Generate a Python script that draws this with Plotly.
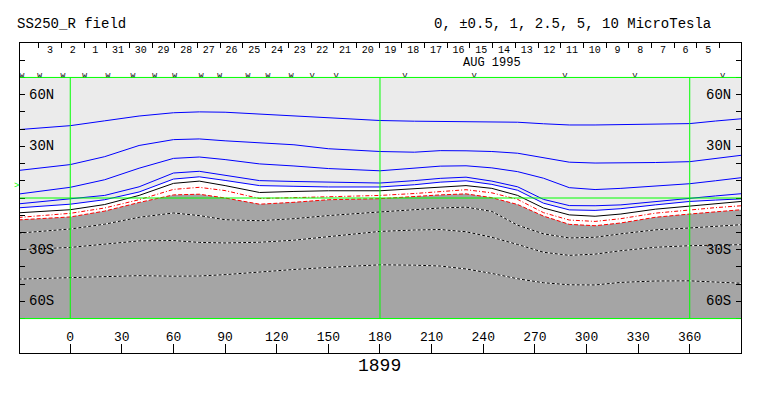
import plotly.graph_objects as go

# ---------------- data ----------------
lon = [-30, 0, 20, 40, 60, 75, 90, 110, 130, 150, 180, 200, 215, 230, 245, 260,
       275, 290, 305, 320, 340, 360, 375, 390]

c_p10 = [39.7, 42.0, 44.8, 47.6, 49.5, 50.0, 49.8, 48.8, 47.7, 46.4, 45.0, 44.6,
         44.5, 44.4, 44.3, 44.0, 43.1, 42.4, 42.4, 42.6, 42.8, 43.2, 44.7, 46.0]
c_p5 = [16.0, 19.4, 24.0, 30.5, 33.9, 34.3, 33.2, 32.0, 30.9, 28.6, 27.0, 26.6,
        27.5, 27.4, 27.0, 26.0, 23.5, 20.8, 20.3, 20.4, 20.6, 21.1, 23.1, 24.8]
c_p25 = [2.3, 6.2, 10.6, 17.3, 23.0, 23.8, 22.3, 19.8, 18.6, 17.1, 15.8, 17.1,
         18.5, 18.7, 17.5, 15.3, 11.5, 6.0, 4.9, 5.6, 7.0, 8.3, 10.0, 11.8]
c_p1 = [-3.4, -0.7, 1.5, 6.5, 14.5, 15.5, 13.2, 10.1, 9.6, 9.1, 8.7, 10.1,
        11.4, 12.1, 9.8, 6.5, -0.8, -4.4, -4.5, -4.0, -2.0, -0.2, 1.2, 2.5]
c_p05 = [-5.7, -3.6, -1.0, 3.5, 11.0, 12.3, 10.2, 7.2, 6.8, 6.4, 6.4, 7.7,
         9.2, 10.0, 7.9, 4.5, -3.0, -6.9, -7.2, -6.2, -4.0, -2.0, -1.2, -0.5]
c_0 = [-8.6, -6.8, -3.8, 1.5, 8.5, 9.8, 7.2, 3.2, 3.8, 4.2, 4.2, 5.5,
       6.6, 7.2, 5.6, 1.5, -5.8, -9.8, -10.6, -9.3, -6.5, -4.7, -3.3, -2.0]
c_m05 = [-11.3, -8.9, -5.8, -1.0, 5.0, 6.2, 4.3, -0.3, 0.2, 0.8, 1.5, 2.6,
         3.8, 4.8, 3.0, -0.8, -8.5, -12.8, -13.6, -12.0, -8.8, -6.8, -5.6, -4.5]
c_m1 = [-12.7, -11.0, -7.6, -2.6, 1.8, 2.2, 0.0, -3.6, -2.5, -1.0, -0.4, 0.9,
        1.8, 2.4, 0.2, -3.8, -10.5, -15.3, -16.1, -14.5, -11.2, -9.3, -8.0, -6.8]
c_m25 = [-20.4, -18.0, -15.2, -11.2, -8.7, -10.2, -12.6, -13.2, -12.0, -10.2, -8.1, -6.8,
         -5.8, -5.3, -7.8, -15.8, -20.8, -23.2, -22.8, -20.8, -18.5, -17.4, -16.3, -15.5]
c_m5 = [-30.0, -28.7, -26.8, -24.9, -24.7, -25.8, -26.1, -25.7, -24.5, -22.3, -19.4, -18.6,
        -18.3, -19.6, -22.8, -27.0, -31.5, -33.3, -32.6, -30.6, -28.6, -27.7, -27.4, -27.1]
c_m10 = [-47.1, -46.1, -45.6, -45.1, -45.4, -45.3, -44.5, -42.8, -41.5, -40.3, -38.8, -39.0,
         -39.5, -41.2, -43.8, -46.9, -49.2, -50.4, -50.5, -49.0, -48.2, -48.1, -48.8, -49.5]

day_labels = ["3", "2", "1", "31", "30", "29", "28", "27", "26", "25", "24", "23",
              "22", "21", "20", "19", "18", "17", "16", "15", "14", "13", "12", "11",
              "10", "9", "8", "7", "6", "5"]

pass_lons = [-28.1, -17.8, -4.2, 8.4, 21.9, 36.4, 49.1, 60.7, 76.1, 86.8, 103.3,
             114.9, 128.4, 140.6, 154.6, 194.5, 234.8, 287.5, 328.2, 379.2]
pass_marks = ["W", "W", "W", "W", "W", "W", "W", "W", "W", "W", "W", "W", "W",
              "V", "V", "V", "V", "V", "V", "V"]

lon_ticks = [0, 30, 60, 90, 120, 150, 180, 210, 240, 270, 300, 330, 360]
lat_ticks = [-80, -70, -60, -50, -40, -30, -20, -10, 0, 10, 20, 30, 40, 50, 60, 70, 80]
lat_labels = {60: "60N", 30: "30N", -30: "30S", -60: "60S"}
ref_lons = [0, 180, 360]
map_lat = [-70, 70]
subsolar_lat = 7.1

# ---------------- styling constants ----------------
XR = [-29.2, 389.8]
DAYR = [-1.32, 30.44]
FONT = "Liberation Mono"
LIGHT = "#ebebeb"
DARK = "#a5a5a5"
GREEN = "#00ff00"

fig = go.Figure()

# white band and dark (negative) area
fig.add_trace(go.Scatter(x=lon + lon[::-1], y=c_p05 + c_m1[::-1], fill="toself",
                         fillcolor="white", line=dict(width=0), mode="lines",
                         hoverinfo="skip", showlegend=False))
fig.add_trace(go.Scatter(x=lon + [lon[-1], lon[0]], y=c_m1 + [map_lat[0], map_lat[0]],
                         fill="toself", fillcolor=DARK, line=dict(width=0), mode="lines",
                         hoverinfo="skip", showlegend=False))

def line(y, color, dash="solid", width=1):
    fig.add_trace(go.Scatter(x=lon, y=y, mode="lines",
                             line=dict(color=color, width=width, dash=dash),
                             hoverinfo="skip", showlegend=False))

for c in [c_p10, c_p5, c_p25, c_p1, c_p05]:
    line(c, "#0000ff")
line(c_0, "black")
line(c_m05, "#ff0000", "4px,2px,1px,2px")
line(c_m1, "#ff0000", "4px,2px")
for c in [c_m25, c_m5, c_m10]:
    line(c, "white")
    line(c, "black", "3px,2px")

# pass markers
fig.add_trace(go.Scatter(x=pass_lons, y=[71.0] * len(pass_lons), mode="text",
                         text=pass_marks, textfont=dict(family=FONT, size=8, color="black"),
                         hoverinfo="skip", showlegend=False))

# day labels on the top (date) axis
fig.add_trace(go.Scatter(x=list(range(len(day_labels))), y=[85.8] * len(day_labels),
                         xaxis="x2", mode="text", text=day_labels,
                         textfont=dict(family=FONT, size=10, color="black"),
                         hoverinfo="skip", showlegend=False))

shapes = [dict(type="rect", xref="x", yref="y", x0=XR[0], x1=XR[1],
               y0=map_lat[0], y1=map_lat[1], fillcolor=LIGHT, line=dict(width=0),
               layer="below")]
for lv in ref_lons:
    shapes.append(dict(type="line", xref="x", yref="y", x0=lv, x1=lv,
                       y0=map_lat[0], y1=map_lat[1], line=dict(color=GREEN, width=1)))
for la in map_lat + [0]:
    shapes.append(dict(type="line", xref="x", yref="y", x0=XR[0], x1=XR[1],
                       y0=la, y1=la, line=dict(color=GREEN, width=1)))

annotations = []
for la, txt in lat_labels.items():
    annotations.append(dict(x=XR[0] + 4.1, y=la, xref="x", yref="y", text=txt,
                            showarrow=False, xanchor="left", yanchor="middle",
                            font=dict(family=FONT, size=14, color="black")))
    annotations.append(dict(x=XR[1] - 4.6, y=la, xref="x", yref="y", text=txt,
                            showarrow=False, xanchor="right", yanchor="middle",
                            font=dict(family=FONT, size=14, color="black")))
annotations += [
    dict(x=-0.007, y=1.0613, xref="paper", yref="paper", text="SS250_R field",
         showarrow=False, xanchor="left", yanchor="middle",
         font=dict(family=FONT, size=14, color="black")),
    dict(x=0.571, y=1.0613, xref="paper", yref="paper",
         text="0, ±0.5, 1, 2.5, 5, 10 MicroTesla",
         showarrow=False, xanchor="left", yanchor="middle",
         font=dict(family=FONT, size=14, color="black")),
    dict(x=180, y=-0.042, xref="x", yref="paper", text="1899",
         showarrow=False, xanchor="center", yanchor="middle",
         font=dict(family=FONT, size=18, color="black")),
    dict(x=0.6546, y=78.4, xref="paper", yref="y", text="AUG 1995",
         showarrow=False, xanchor="center", yanchor="middle",
         font=dict(family=FONT, size=12, color="black")),
    dict(x=-0.005, y=subsolar_lat, xref="paper", yref="y", text=">",
         showarrow=False, xanchor="center", yanchor="middle",
         font=dict(family=FONT, size=9, color=GREEN)),
]

fig.update_layout(
    width=763, height=396,
    margin=dict(l=20, r=22, t=43, b=43),
    paper_bgcolor="white", plot_bgcolor="white",
    showlegend=False,
    xaxis=dict(range=XR, tickvals=lon_ticks, ticks="inside", ticklen=9,
               tickcolor="black", ticklabelposition="inside",
               tickfont=dict(family=FONT, size=13, color="black"),
               showline=True, linecolor="black", linewidth=1, mirror=True,
               showgrid=False, zeroline=False, fixedrange=True),
    xaxis2=dict(range=DAYR, overlaying="x", side="top", anchor="y",
                tickvals=[i - 0.5 for i in range(len(day_labels) + 1)],
                ticks="inside", ticklen=5, tickcolor="black",
                showticklabels=False, showline=False, showgrid=False,
                zeroline=False, fixedrange=True),
    yaxis=dict(range=[-90, 90], tickvals=lat_ticks, ticks="inside", ticklen=5,
               tickcolor="black", showticklabels=False, showline=True,
               linecolor="black", linewidth=1, mirror="ticks", showgrid=False,
               zeroline=False, fixedrange=True),
    shapes=shapes,
    annotations=annotations,
)

fig.write_html("out.html", config={"displayModeBar": False},
               post_script="document.body.style.margin='0px';")
